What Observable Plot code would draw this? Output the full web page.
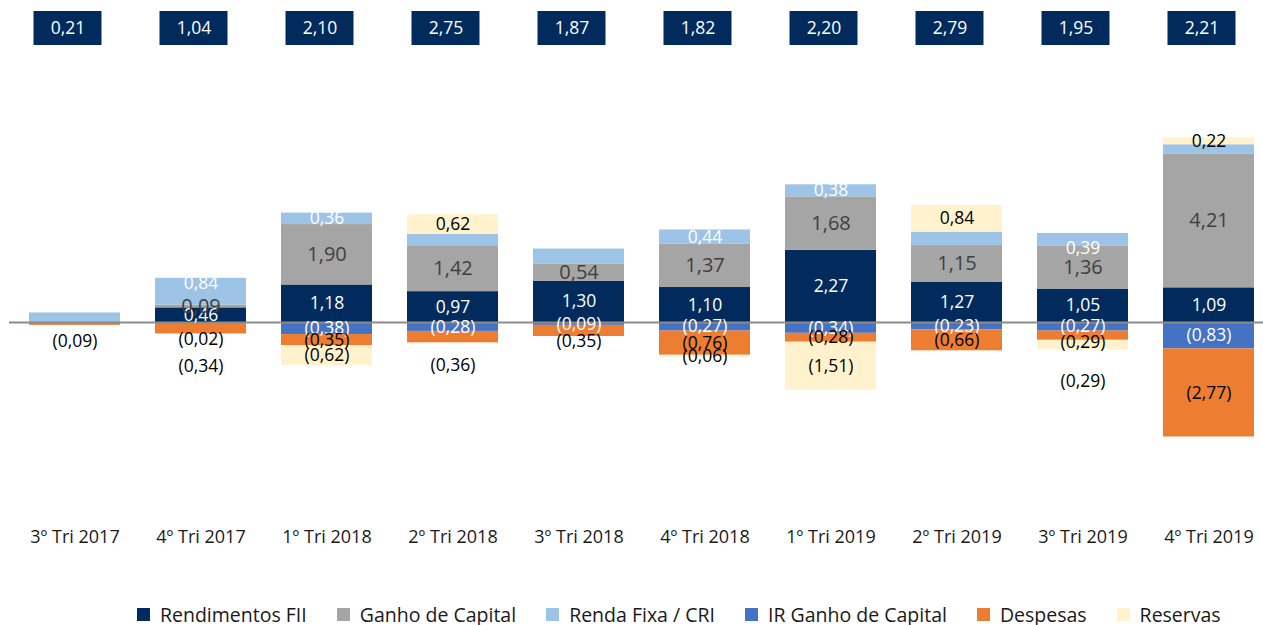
<!DOCTYPE html>
<html>
<head>
<meta charset="utf-8">
<script src="https://cdn.jsdelivr.net/npm/d3@7"></script>
<script src="https://cdn.jsdelivr.net/npm/@observablehq/plot@0.6"></script>
<style>
  html, body { margin: 0; padding: 0; background: #fff; }
  body { width: 1263px; height: 625px; overflow: hidden; font-family: "Open Sans", sans-serif; }
  #legend { display: flex; align-items: center; height: 65px; padding-left: 137px; padding-top: 43px; box-sizing: border-box; color: #1a1a1a; font-size: 19.5px; }
  .item { display: flex; align-items: center; margin-right: 30px; white-space: nowrap; }
  .sw { width: 13px; height: 13px; margin-right: 10px; }
</style>
</head>
<body>
<div id="chart"></div>
<div id="legend"></div>
<script>
// ---- data ----
const categories = ["3º Tri 2017", "4º Tri 2017", "1º Tri 2018", "2º Tri 2018", "3º Tri 2018", "4º Tri 2018", "1º Tri 2019", "2º Tri 2019", "3º Tri 2019", "4º Tri 2019"];
const seriesNames = ["Rendimentos FII", "Ganho de Capital", "Renda Fixa / CRI", "IR Ganho de Capital", "Despesas", "Reservas"];
const rendimentos = [0, 0.46, 1.18, 0.97, 1.30, 1.10, 2.27, 1.27, 1.05, 1.09];
const ganhoCapital = [0, 0.09, 1.90, 1.42, 0.54, 1.37, 1.68, 1.15, 1.36, 4.21];
const rendaFixa = [0.30, 0.84, 0.36, 0.38, 0.47, 0.44, 0.38, 0.42, 0.39, 0.29];
const irGanho = [0, -0.02, -0.38, -0.28, -0.09, -0.27, -0.34, -0.23, -0.27, -0.83];
const despesas = [-0.09, -0.34, -0.35, -0.36, -0.35, -0.76, -0.28, -0.66, -0.29, -2.77];
const reservas = [0, 0, -0.62, 0.62, 0, -0.06, -1.51, 0.84, -0.29, 0.22];
const totals = [0.21, 1.04, 2.10, 2.75, 1.87, 1.82, 2.20, 2.79, 1.95, 2.21];

// ---- styling ----
const colors = ["#002B5C", "#A5A5A5", "#9DC3E6", "#4472C4", "#ED7D31", "#FFF2CC"];
const navy = "#002B5C";
const FONT = "'Open Sans', sans-serif";

// labels not shown in the original (hidden behind others)
const hiddenLabels = new Set([
  "3º Tri 2017|Renda Fixa / CRI",
  "2º Tri 2018|Renda Fixa / CRI",
  "3º Tri 2018|Renda Fixa / CRI",
  "2º Tri 2019|Renda Fixa / CRI",
  "4º Tri 2019|Renda Fixa / CRI"
]);
// labels moved away from their segment: pixel offset and colour
const labelNudge = {
  "3º Tri 2017|Despesas": [17, "#000000"],
  "4º Tri 2017|Renda Fixa / CRI": [-8, "#FFFFFF"],
  "4º Tri 2017|IR Ganho de Capital": [17, "#000000"],
  "4º Tri 2017|Despesas": [38, "#000000"],
  "2º Tri 2018|Despesas": [28, "#000000"],
  "3º Tri 2018|Despesas": [10, "#000000"],
  "3º Tri 2019|Renda Fixa / CRI": [9, "#FFFFFF"],
  "3º Tri 2019|Despesas": [7, "#000000"],
  "3º Tri 2019|Reservas": [36, "#000000"]
};

const seriesValues = [rendimentos, ganhoCapital, rendaFixa, irGanho, despesas, reservas];
const rows = [];
categories.forEach((c, i) => {
  seriesNames.forEach((s, j) => rows.push({cat: c, series: s, value: seriesValues[j][i], key: c + "|" + s}));
});
const totalRows = categories.map((c, i) => ({cat: c, value: totals[i]}));

const num = v => d3.format(".2f")(Math.abs(v)).replace(".", ",");
const fmt = v => v < 0 ? "(" + num(v) + ")" : num(v);

const labelStyle = {
  "Rendimentos FII": {fill: "#FFFFFF", fontSize: 17.5},
  "Ganho de Capital": {fill: "#404040", fontSize: 20},
  "Renda Fixa / CRI": {fill: "#FFFFFF", fontSize: 17.5},
  "IR Ganho de Capital": {fill: "#FFFFFF", fontSize: 17.5},
  "Despesas": {fill: "#000000", fontSize: 17.5},
  "Reservas": {fill: "#000000", fontSize: 17.5}
};

const W = 1263, H = 560;
const ZERO = 322, PX = 31.8;
const stackOpts = {x: "cat", y: "value", z: "series"};

const labelMarks = [];
seriesNames.forEach(s => {
  labelMarks.push(Plot.text(rows, Plot.stackY({
    ...stackOpts,
    text: d => (d.series === s && d.value !== 0 && !hiddenLabels.has(d.key) && !(d.key in labelNudge)) ? fmt(d.value) : null,
    fill: labelStyle[s].fill,
    fontSize: labelStyle[s].fontSize
  })));
});
Object.entries(labelNudge).forEach(([key, [dy, fill]]) => {
  const s = key.split("|")[1];
  labelMarks.push(Plot.text(rows, Plot.stackY({
    ...stackOpts,
    text: d => d.key === key ? fmt(d.value) : null,
    fill,
    fontSize: labelStyle[s].fontSize,
    dy
  })));
});

const chart = Plot.plot({
  width: W,
  height: H,
  marginTop: 0,
  marginBottom: 0,
  marginLeft: 9,
  marginRight: 0,
  style: {fontFamily: FONT, background: "white"},
  x: {domain: categories, range: [27, 1256], paddingInner: 0.28, paddingOuter: 0, axis: null},
  y: {domain: [-(H - ZERO) / PX, ZERO / PX], axis: null},
  color: {domain: seriesNames, range: colors},
  marks: [
    Plot.barY(rows, Plot.stackY({...stackOpts, fill: "series"})),
    Plot.ruleY([0], {stroke: "#8C8C8C", strokeWidth: 2}),
    ...labelMarks,
    // totals boxes
    Plot.cell(totalRows, {x: "cat", fill: navy, insetTop: 11, insetBottom: H - 45, insetLeft: 11.5, insetRight: 11.5, dx: -7}),
    Plot.text(totalRows, {x: "cat", text: d => fmt(d.value), frameAnchor: "top", lineAnchor: "middle", dy: 28, dx: -7, fill: "#FFFFFF", fontSize: 17.5}),
    // category labels
    Plot.text(categories, {x: d => d, text: d => d, frameAnchor: "bottom", lineAnchor: "middle", dy: -23, fill: "#1a1a1a", fontSize: 18})
  ]
});
document.getElementById("chart").appendChild(chart);

// legend
const lg = document.getElementById("legend");
seriesNames.forEach((s, i) => {
  const it = document.createElement("div");
  it.className = "item";
  const sw = document.createElement("div");
  sw.className = "sw";
  sw.style.background = colors[i];
  const t = document.createElement("span");
  t.textContent = s;
  it.appendChild(sw); it.appendChild(t);
  lg.appendChild(it);
});
</script>
</body>
</html>
